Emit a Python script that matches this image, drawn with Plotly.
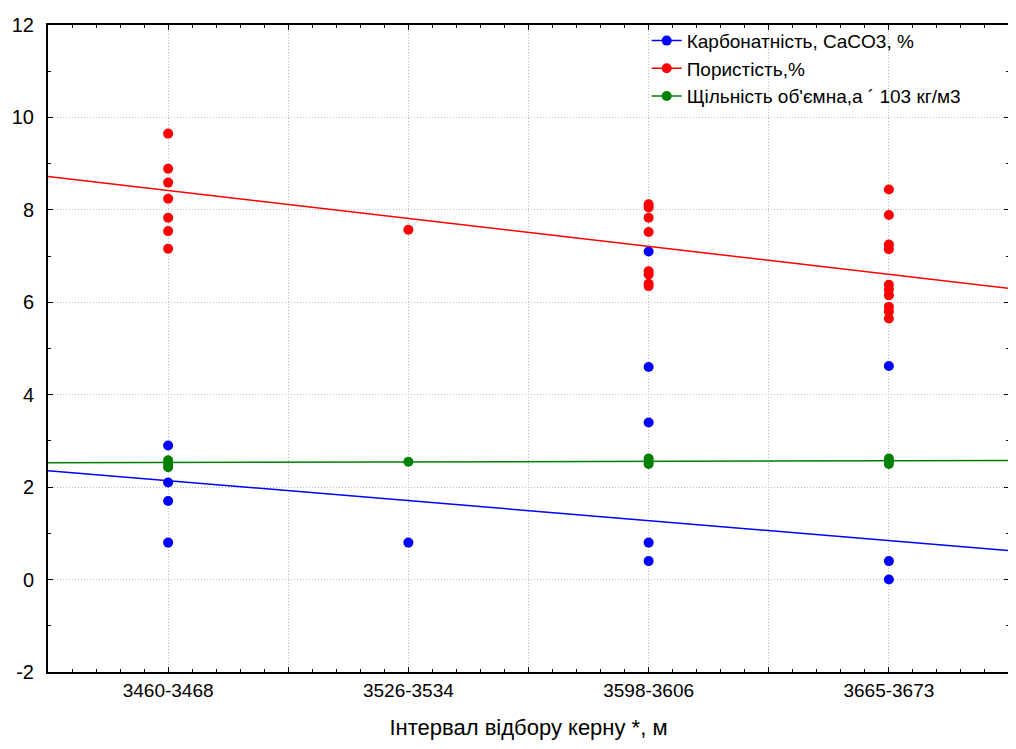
import plotly.graph_objects as go

categories = ["3460-3468", "3526-3534", "3598-3606", "3665-3673"]
y_ticks = [-2, 0, 2, 4, 6, 8, 10, 12]
y_tick_labels = ["-2", "0", "2", "4", "6", "8", "10", "12"]

# Carbonate content, CaCO3 %  (category index, value)
carb_x = [0, 0, 0, 0, 1, 2, 2, 2, 2, 2, 3, 3, 3]
carb_y = [2.9, 2.1, 1.7, 0.8, 0.8, 7.1, 4.6, 3.4, 0.8, 0.4, 4.62, 0.4, 0.0]

# Porosity, %
por_x = [0, 0, 0, 0, 0, 0, 0, 1, 2, 2, 2, 2, 2, 2, 2, 2, 3, 3, 3, 3, 3, 3, 3, 3, 3, 3]
por_y = [9.65, 8.89, 8.59, 8.24, 7.83, 7.54, 7.16, 7.57,
         8.12, 8.05, 7.83, 7.52, 6.67, 6.6, 6.35, 6.4,
         8.44, 7.89, 7.25, 7.15, 6.38, 6.27, 6.15, 5.9, 5.8, 5.65]

# Bulk density, x10^3 kg/m3
dens_x = [0, 0, 0, 1, 2, 2, 2, 3, 3, 3]
dens_y = [2.58, 2.5, 2.43, 2.55, 2.62, 2.56, 2.5, 2.62, 2.56, 2.5]

# Linear fits: (value at first category, slope per category)
carb_fit = (2.14, -0.4325)
por_fit = (8.42, -0.605)
dens_fit = (2.535, 0.012)

series_names = ["Карбонатність, CaCO3, %", "Пористість,%", "Щільність об'ємна,а ´ 103 кг/м3"]
colors = ["#0000ff", "#ff0000", "#008000"]

x_range = [-0.5, 3.5]

fig = go.Figure()
for name, xs, ys, fit, col in zip(series_names,
                                  [carb_x, por_x, dens_x],
                                  [carb_y, por_y, dens_y],
                                  [carb_fit, por_fit, dens_fit],
                                  colors):
    b, m = fit
    fig.add_trace(go.Scatter(
        x=x_range, y=[b + m * x_range[0], b + m * x_range[1]],
        mode="lines", line=dict(color=col, width=1.5),
        showlegend=False, hoverinfo="skip"))
    fig.add_trace(go.Scatter(
        x=xs, y=ys, mode="markers", name=name, showlegend=False,
        marker=dict(color=col, size=10)))

for name, col in zip(series_names, colors):
    fig.add_trace(go.Scatter(x=[None], y=[None], mode="lines+markers", name=name,
                             line=dict(color=col, width=1.5),
                             marker=dict(color=col, size=10)))

tickvals = [i * 0.5 for i in range(-1, 8)]
ticktext = [categories[int(v)] if v == int(v) and 0 <= v <= 3 else "" for v in tickvals]

grid = dict(showgrid=True, gridcolor="#bdbdbd", griddash="1px,2px", gridwidth=1)

fig.update_layout(
    width=1016, height=749,
    margin=dict(l=40, r=15, t=17, b=85),
    paper_bgcolor="white", plot_bgcolor="white",
    font=dict(family="Liberation Sans, Arial, sans-serif", size=19, color="black"),
    showlegend=True,
    legend=dict(x=0.623, y=1.005, xanchor="left", yanchor="top",
                bgcolor="rgba(0,0,0,0)", font=dict(size=19),
                tracegroupgap=0),
    xaxis=dict(range=x_range, tickmode="array", tickvals=tickvals, ticktext=ticktext,
               **grid,
               ticks="inside", ticklen=5, tickcolor="black",
               showline=True, linecolor="black", linewidth=2, mirror="allticks",
               zeroline=False, automargin=False,
               tickfont=dict(size=19),
               minor=dict(tick0=0, dtick=0.1, ticks="inside", ticklen=3,
                          tickcolor="black", showgrid=False),
               title=dict(text="Інтервал відбору керну *, м", standoff=20,
                          font=dict(size=22))),
    yaxis=dict(range=[-2, 12], tickmode="array", tickvals=y_ticks, ticktext=y_tick_labels,
               **grid,
               ticks="inside", ticklen=5, tickcolor="black",
               showline=True, linecolor="black", linewidth=2, mirror="allticks",
               zeroline=False, ticklabelstandoff=8, automargin=False,
               minor=dict(tick0=-2, dtick=1, ticks="inside", ticklen=3,
                          tickcolor="black", showgrid=False),
               tickfont=dict(size=20)),
)

fig.write_html("out.html")
